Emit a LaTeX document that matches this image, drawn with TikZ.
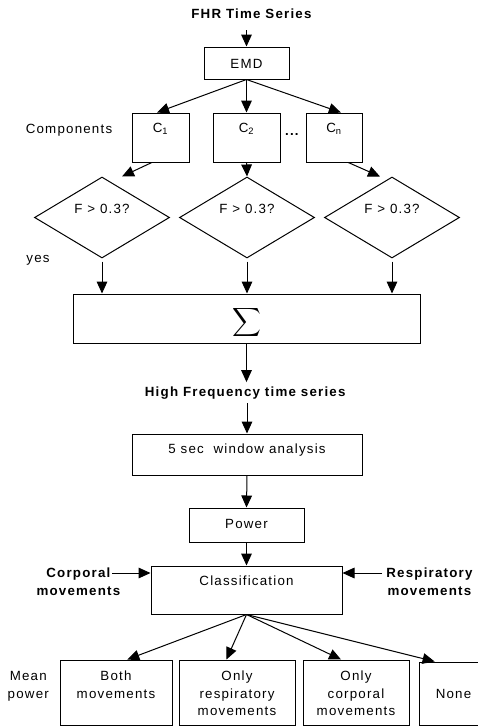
\documentclass[tikz,border=0pt]{standalone}
\usepackage{fontspec}
\setmainfont{Liberation Sans}[LetterSpace=9]
\usetikzlibrary{arrows.meta,shapes.geometric,calc}
\newcommand{\txt}[2]{\raisebox{#1}[0pt][0pt]{\begin{tabular}[b]{@{}c@{}}#2\end{tabular}}}
\tikzset{
 box/.style={draw, rectangle, inner sep=0pt, line width=0.75pt},
 dia/.style={draw, diamond, aspect=1.667, inner sep=0pt, minimum width=101.25pt, minimum height=60.75pt, line width=0.75pt},
 lbl/.style={inner sep=0pt, anchor=base},
 arr/.style={-{Triangle[length=9pt,width=8pt]}, line width=0.75pt},
}
\begin{document}
\begin{tikzpicture}[x=0.75pt,y=-0.75pt,font=\fontsize{10}{13}\selectfont]
\useasboundingbox (0,0) rectangle (478,728);
% labels
\node[lbl, inner ysep=8.8pt] (fhr) at (252,18.3) {\textbf{FHR Time Series}};
\node[lbl] (comp) at (69,133.3) {Components};
\node[lbl] (dots) at (292.5,135) {\textbf{...}};
\node[lbl] (yes) at (38,262.5) {yes};
\node[lbl, inner ysep=3pt] (hf) at (245.8,396) {\textbf{High Frequency time series}};
\node[inner sep=0pt] (corp) at (79,595) {\txt{0pt}{\textbf{Corporal}\\\textbf{movements}}};
\node[inner sep=0pt] (resp) at (430,595) {\txt{0pt}{\textbf{Respiratory}\\\textbf{movements}}};
\node[inner sep=0pt] (mean) at (28.3,698) {\txt{0pt}{Mean\\power}};
% boxes
\node[box, minimum width=63.75pt, minimum height=24pt] (emd) at (246.5,63) {\txt{-4pt}{EMD}};
\node[box, minimum width=42.75pt, minimum height=36.75pt] (c1) at (160.5,137.5) {\txt{3.4pt}{C\textsubscript{1}}};
\node[box, minimum width=50.25pt, minimum height=36.75pt] (c2) at (246.5,137.5) {\txt{3.4pt}{C\textsubscript{2}}};
\node[box, minimum width=42pt, minimum height=36.75pt] (cn) at (334,137.5) {\txt{3.4pt}{C\textsubscript{n}}};
\node[dia] (d1) at (102,217.5) {\txt{3.2pt}{F > 0.3?}};
\node[dia] (d2) at (247,217.5) {\txt{3.2pt}{F > 0.3?}};
\node[dia] (d3) at (392,217.5) {\txt{3.2pt}{F > 0.3?}};
\node[box, minimum width=260.25pt, minimum height=36.75pt] (sigma) at (246.5,318.5) {\txt{-6.5pt}{\scalebox{1.5}{$\displaystyle\sum$}}};
\node[box, minimum width=172.5pt, minimum height=30.75pt] (win) at (247,454.5) {\txt{0.75pt}{5 sec\ \ window analysis}};
\node[box, minimum width=86.25pt, minimum height=25.5pt] (power) at (246.5,525) {\txt{-2.5pt}{Power}};
\node[box, minimum width=143.25pt, minimum height=36pt] (class) at (246.5,590) {\txt{3.2pt}{Classification}};
\node[box, minimum width=84pt, minimum height=48.75pt] (both) at (116,692.5) {\txt{-4.35pt}{Both\\movements}};
\node[box, minimum width=87pt, minimum height=48.75pt] (oresp) at (237,692.5) {\txt{-17.25pt}{Only\\respiratory\\movements}};
\node[box, minimum width=79.5pt, minimum height=48.75pt] (ocorp) at (356,692.5) {\txt{-17.25pt}{Only\\corporal\\movements}};
\node[box, minimum width=51.75pt, minimum height=47.25pt] (none) at (453.5,693.5) {\txt{-3.6pt}{None}};
\coordinate (cs) at (112,573);
\coordinate (rs) at (382,573);
% connectors
\draw[arr] (emd.north |- fhr.south) -- (emd.north);
\draw[arr] (emd.south) -- ($(c1.north west)!0.44!(c1.north east)$);
\draw[arr] (emd.south) -- (c2.north);
\draw[arr] (emd.south) -- ($(cn.north west)!0.62!(cn.north east)$);
\draw[arr] ($(c1.south west)!0.35!(c1.south east)$) -- ($(d1.north)+(20,0)$);
\draw[arr] (c2.south) -- (d2.north);
\draw[arr] ($(cn.south west)!0.75!(cn.south east)$) -- ($(d3.north)+(-12,0)$);
\draw[arr] ($(d1.south)+(0,3)$) -- (d1.south |- sigma.north);
\draw[arr] ($(d2.south)+(0,3)$) -- (d2.south |- sigma.north);
\draw[arr] ($(d3.south)+(0,3)$) -- (d3.south |- sigma.north);
\draw[arr] (sigma.south) -- (sigma.south |- hf.north);
\draw[arr] (win.north |- hf.south) -- (win.north);
\draw[arr] (win.south) -- (power.north);
\draw[arr] (power.south) -- (class.north);
\draw[arr] (cs) -- (class.west |- cs);
\draw[arr] (rs) -- (class.east |- rs);
\draw[arr] (class.south) -- ($(both.north west)!0.6!(both.north east)$);
\draw[arr] (class.south) -- ($(oresp.north west)!0.41!(oresp.north east)$);
\draw[arr] (class.south) -- ($(ocorp.north west)!0.36!(ocorp.north east)$);
\draw[arr] (class.south) -- ($(none.north west)!0.23!(none.north east)$);
\end{tikzpicture}
\end{document}
